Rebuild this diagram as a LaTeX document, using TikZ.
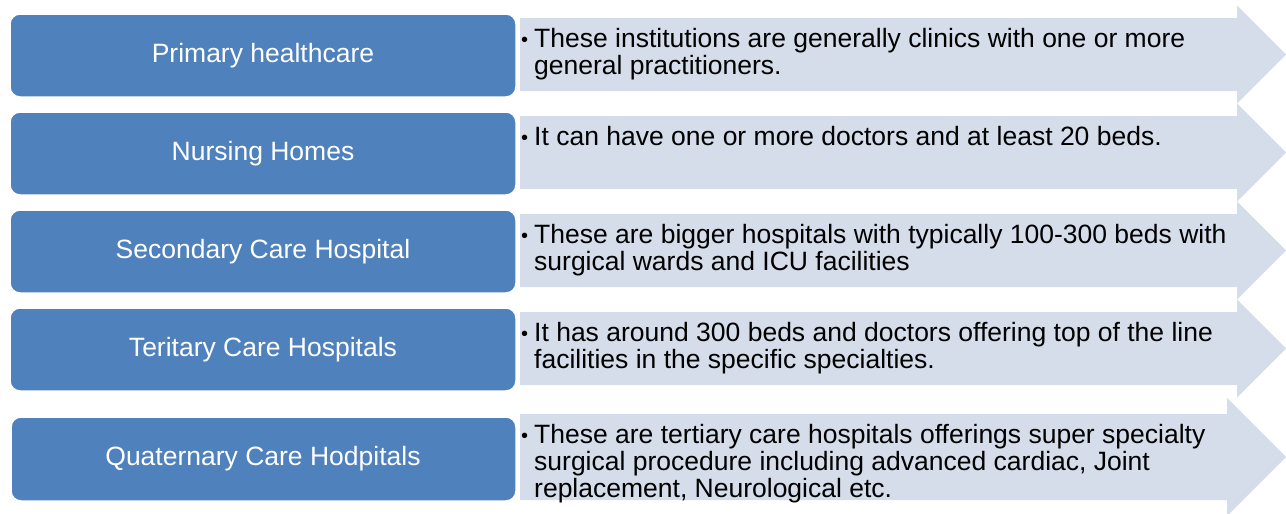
\documentclass[tikz,border=0pt]{standalone}
\usepackage{fontspec}
\setmainfont{Liberation Sans}
\definecolor{boxblue}{HTML}{4F81BD}
\definecolor{arrowfill}{HTML}{D5DCEA}
\newcommand{\bulletline}[1]{\makebox[13pt][l]{\fontsize{20}{20}\selectfont\raisebox{1pt}{•}}\parbox[t]{740pt}{\raggedright #1}}
\tikzset{
  levelbox/.style={draw=white, line width=1.5pt, fill=boxblue, rounded corners=10pt},
  levellabel/.style={text=white, font=\fontsize{26.5}{30}\selectfont, inner sep=0pt},
  arrowbody/.style={fill=arrowfill, draw=none},
  desc/.style={anchor=base west, inner sep=0pt, font=\fontsize{26.5}{27}\selectfont, text=black},
}
\begin{document}
\begin{tikzpicture}[x=1pt, y=-1pt]
\useasboundingbox (0,0) rectangle (1286,514);
% arrows
\foreach \k in {0,1,2,3}{
  \pgfmathsetmacro{\cy}{54.5+98*\k}
  \fill[arrowbody] (520,\cy-36.5) -- (1237,\cy-36.5) -- (1237,\cy-49) -- (1286,\cy) -- (1237,\cy+49) -- (1237,\cy+36.5) -- (520,\cy+36.5) -- cycle;
}
\fill[arrowbody] (520,414) -- (1227,414) -- (1227,398) -- (1286,457) -- (1227,516) -- (1227,500) -- (520,500) -- cycle;
% boxes
\draw[levelbox] (10,14) rectangle (516,97);
\draw[levelbox] (10,112) rectangle (516,195);
\draw[levelbox] (10,210) rectangle (516,293);
\draw[levelbox] (10,308) rectangle (516,391);
\draw[levelbox] (11,417) rectangle (516,501);
\node[levellabel] (b1) at (263,55.5) {Primary healthcare};
\node[levellabel] (b2) at (263,153.5) {Nursing Homes};
\node[levellabel] (b3) at (263,251.5) {Secondary Care Hospital};
\node[levellabel] (b4) at (263,349.5) {Teritary Care Hospitals};
\node[levellabel] (b5) at (263,459) {Quaternary Care Hodpitals};
% descriptions
\node[desc] (d1) at (521,47) {\bulletline{These institutions are generally clinics with one or more\\general practitioners.}};
\node[desc] (d2) at (521,145) {\bulletline{It can have one or more doctors and at least 20 beds.}};
\node[desc] (d3) at (521,243) {\bulletline{These are bigger hospitals with typically 100-300 beds with\\surgical wards and ICU facilities}};
\node[desc] (d4) at (521,341) {\bulletline{It has around 300 beds and doctors offering top of the line\\facilities in the specific specialties.}};
\node[desc] (d5) at (521,443) {\bulletline{These are tertiary care hospitals offerings super specialty\\surgical procedure including advanced cardiac, Joint\\replacement, Neurological etc.}};
\end{tikzpicture}
\end{document}
